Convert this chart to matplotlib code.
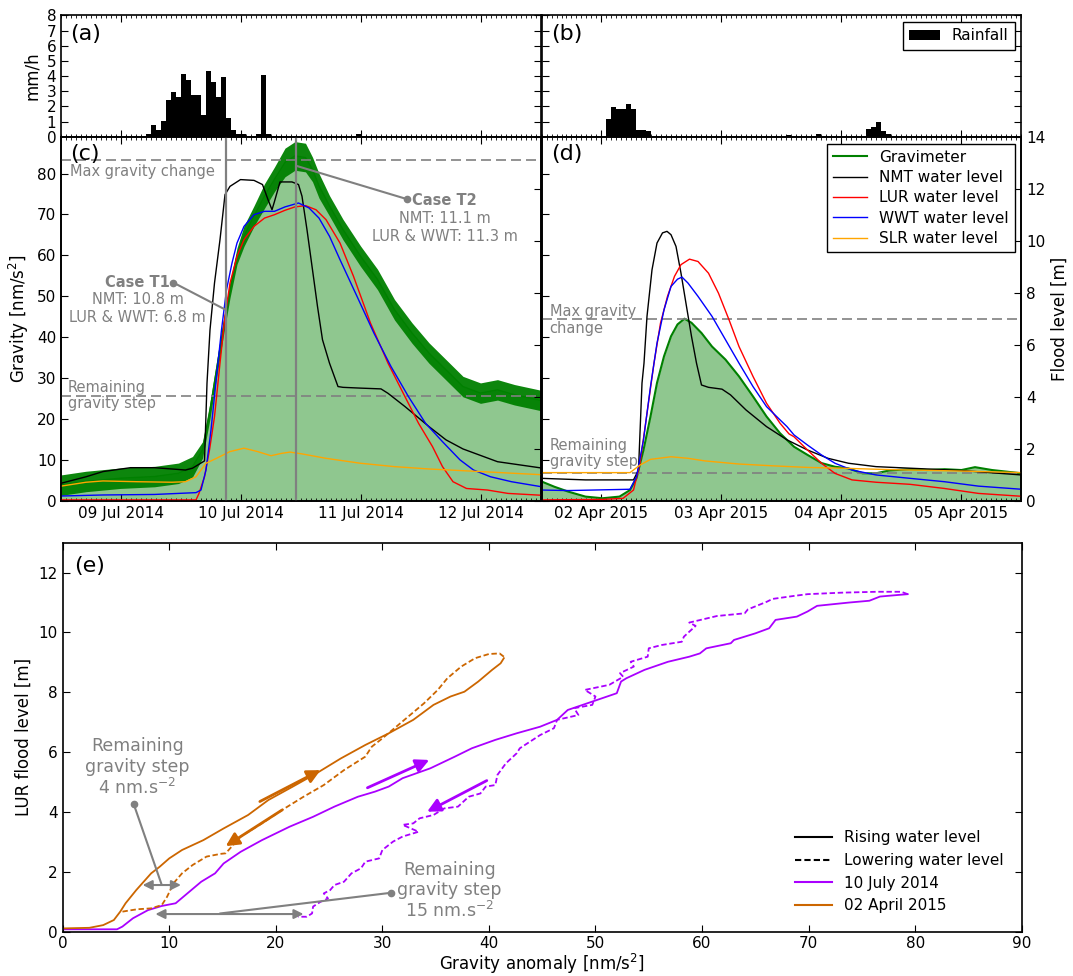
import matplotlib
matplotlib.use('Agg')
import matplotlib.pyplot as plt
import matplotlib.dates as mdates
from matplotlib.lines import Line2D
import numpy as np
from datetime import datetime

plt.rcParams.update({
    'font.family': 'DejaVu Sans',
    'xtick.direction': 'in', 'ytick.direction': 'in',
    'xtick.major.size': 5, 'ytick.major.size': 5,
    'xtick.minor.size': 2.5, 'ytick.minor.size': 2.5,
    'xtick.labelsize': 11, 'ytick.labelsize': 11,
    'axes.linewidth': 1.2,
    'legend.fancybox': False, 'legend.edgecolor': 'black', 'legend.framealpha': 1,
})

# ---- rainfall (hours after 09 Jul 2014 00:00 / 02 Apr 2015 00:00), mm/h
rain_a_h = [5, 6, 7, 8, 9, 10, 11, 12, 13, 14, 15, 16, 17, 18, 19, 20, 21, 22, 23, 24, 27, 28, 29, 47]
rain_a = [0.15, 0.77, 0.44, 1.04, 2.42, 2.95, 2.62, 4.14, 3.74, 2.75, 2.75, 1.43, 4.34, 3.61,
          2.62, 3.94, 1.23, 0.44, 0.18, 0.18, 0.18, 4.05, 0.15, 0.18]
rain_b_h = [1, 2, 3, 4, 5, 6, 7, 8, 9, 37, 43, 53, 54, 55, 56, 57]
rain_b = [1.17, 1.96, 1.81, 1.81, 2.14, 1.83, 0.44, 0.44, 0.37, 0.12, 0.15, 0.48, 0.66, 0.99, 0.37, 0.15]

# ---- July 2014 event (c): gravimeter [nm/s2], water levels [m]
grav_c_h = [-12, -7.0, -0.1, 6.7, 11.5, 14.3, 16.3, 17.7, 19.1, 20.4, 21.8, 23.2, 24.6, 26.6, 28.7,
            30.7, 32.8, 34.8, 36.9, 38.3, 39.6, 41.7, 44.4, 47.9, 51.3, 54.7, 58.2, 61.6, 65.0,
            68.4, 71.9, 75.3, 78.7, 84]
grav_c = [3.8, 4.7, 5.5, 5.9, 6.7, 8.3, 12.4, 21.4, 32.0, 41.8, 51.6, 59.8, 64.7, 69.6, 74.5, 78.6,
          82.7, 84.3, 83.9, 81.0, 77.0, 72.1, 66.3, 59.8, 54.1, 46.7, 41.0, 36.1, 32.0, 27.9, 26.3,
          27.1, 25.9, 24.5]
grav_c_noise = [2.5, 2.5, 2.5, 2.5, 2.5, 2.5, 2.0, 2.0, 2.0, 2.0, 2.0, 2.0, 2.5, 2.5, 3.0, 3.0,
                3.5, 3.5, 3.5, 3.0, 3.0, 2.5, 2.5, 2.5, 2.5, 2.5, 2.5, 2.5, 2.5, 2.5, 2.5, 2.5, 2.5, 2.5]

nmt_c_h = [-12, -7.0, -3.6, 1.9, 6.7, 12.9, 14.3, 16.7, 17.2, 17.8, 18.7, 19.8, 20.8, 21.8, 23.9,
           26.6, 28.3, 29.4, 30.2, 30.7, 31.8, 34.2, 35.5, 36.2, 37.2, 38.3, 39.3, 40.3, 41.7,
           43.4, 44.4, 47.9, 52.0, 53.4, 56.8, 61.6, 65.0, 68.4, 75.3, 84]
nmt_c = [0.67, 0.92, 1.12, 1.27, 1.27, 1.18, 1.25, 1.53, 4.52, 6.57, 8.37, 10.04, 11.77, 12.09,
         12.35, 12.32, 12.16, 11.58, 11.19, 11.51, 12.26, 12.26, 12.16, 11.71, 10.42, 8.88, 7.47,
         6.19, 5.29, 4.39, 4.36, 4.33, 4.30, 4.13, 3.62, 2.85, 2.34, 1.99, 1.50, 1.26]
lur_c_h = [-12, 15.0, 15.6, 16.7, 17.7, 18.7, 19.8, 20.8, 21.8, 23.2, 24.6, 26.6, 28.7, 30.7, 32.8,
           34.8, 36.9, 39.0, 41.0, 43.8, 46.5, 49.9, 53.4, 56.8, 59.5, 62.3, 64.3, 66.4, 69.1,
           73.3, 77.4, 84]
lur_c = [0.03, 0.03, 0.28, 0.92, 1.95, 3.23, 5.29, 7.09, 8.37, 9.40, 10.04, 10.55, 10.87, 11.0,
         11.17, 11.30, 11.35, 11.19, 10.81, 9.91, 8.63, 6.83, 5.29, 4.0, 2.98, 2.08, 1.31, 0.73,
         0.47, 0.41, 0.28, 0.21]
wwt_c_h = [-12, -3.6, 6.7, 15.0, 16.0, 17.0, 18.0, 19.1, 20.1, 21.1, 22.2, 23.2, 24.6, 26.6, 28.7,
           30.7, 32.8, 35.5, 37.6, 39.6, 41.7, 43.8, 47.2, 50.6, 54.0, 57.5, 60.9, 64.3, 67.8,
           70.5, 73.9, 78.1, 84]
wwt_c = [0.18, 0.22, 0.24, 0.31, 0.41, 1.18, 2.72, 4.78, 6.57, 8.11, 9.14, 9.91, 10.55, 11.0,
         11.13, 11.13, 11.30, 11.45, 11.26, 10.87, 10.17, 9.27, 7.86, 6.44, 5.16, 4.0, 2.98, 2.27,
         1.57, 1.18, 0.92, 0.73, 0.54]
slr_c_h = [-12, -7.0, -3.6, 3.3, 10.2, 12.9, 15.0, 17.0, 19.1, 21.8, 24.6, 27.3, 30.0, 32.1, 33.8,
           36.2, 41.0, 47.9, 54.7, 61.6, 71.9, 84]
slr_c = [0.56, 0.71, 0.76, 0.73, 0.71, 0.73, 0.92, 1.44, 1.63, 1.89, 2.02, 1.89, 1.73, 1.82, 1.87,
         1.80, 1.63, 1.44, 1.31, 1.22, 1.12, 1.00]

# ---- April 2015 event (d)
grav_d_h = [-12, -9.4, -6.6, -3.2, 0.2, 3.6, 5.7, 7.0, 8.4, 9.8, 11.1, 12.5, 13.9, 15.2, 16.6,
            18.0, 20.0, 22.1, 24.8, 27.5, 30.3, 33.0, 35.7, 38.5, 41.2, 44.0, 46.7, 49.4, 52.2,
            54.9, 57.6, 61.7, 65.1, 68.6, 72.0, 74.7, 78.1, 84]
grav_d = [4.7, 3.4, 2.2, 1.0, 0.6, 1.0, 2.6, 5.5, 12.4, 20.6, 28.8, 35.3, 40.2, 43.1, 44.5, 43.5,
          41.0, 37.7, 34.5, 30.4, 25.5, 20.6, 16.5, 13.2, 11.2, 9.2, 8.3, 7.9, 6.7, 6.7, 7.4, 7.7,
          7.5, 7.7, 7.5, 8.2, 7.5, 6.7]
nmt_d_h = [-12, -3.2, 6.4, 7.4, 8.1, 8.5, 9.1, 10.1, 11.1, 12.2, 13.1, 13.9, 14.9, 15.9, 17.0,
           18.0, 19.0, 20.0, 21.4, 24.1, 25.8, 28.9, 33.0, 37.1, 41.2, 45.3, 49.4, 54.9, 61.7,
           72.0, 84]
nmt_d = [0.86, 0.80, 0.80, 1.18, 4.52, 5.29, 7.09, 8.88, 9.91, 10.30, 10.36, 10.23, 9.78, 8.75,
         7.47, 6.32, 5.29, 4.45, 4.36, 4.29, 4.07, 3.49, 2.85, 2.34, 1.95, 1.63, 1.44, 1.31, 1.25,
         1.16, 0.99]
lur_d_h = [-12, 0.2, 4.3, 6.4, 7.7, 9.1, 10.5, 11.8, 13.2, 14.6, 15.9, 17.6, 19.3, 21.4, 23.4,
           25.5, 27.5, 30.3, 33.0, 35.7, 37.5, 38.5, 41.2, 44.0, 46.7, 50.1, 54.9, 61.7, 68.6,
           75.4, 84]
lur_d = [0.03, 0.05, 0.09, 0.41, 1.44, 3.36, 5.29, 6.83, 7.86, 8.63, 9.08, 9.29, 9.20, 8.75,
         7.98, 6.96, 5.93, 4.78, 3.75, 2.98, 2.57, 2.46, 1.95, 1.44, 1.05, 0.80, 0.71, 0.63, 0.47,
         0.28, 0.17]
wwt_d_h = [-12, -6.6, 5.7, 7.0, 8.4, 9.8, 11.1, 12.5, 13.9, 15.2, 16.1, 17.3, 19.3, 22.1, 24.8,
           27.5, 30.3, 33.0, 35.7, 37.1, 38.5, 41.2, 44.0, 46.7, 50.1, 54.9, 61.7, 68.6, 75.4, 84]
wwt_d = [0.41, 0.39, 0.44, 0.92, 2.34, 4.39, 6.06, 7.34, 8.24, 8.52, 8.60, 8.37, 7.86, 7.09,
         6.19, 5.29, 4.39, 3.62, 3.11, 2.85, 2.53, 2.14, 1.76, 1.44, 1.18, 0.99, 0.86, 0.73, 0.56,
         0.44]
slr_d_h = [-12, 5.7, 7.7, 9.8, 13.9, 17.3, 20.7, 27.5, 34.4, 41.2, 48.1, 54.9, 61.7, 72.0, 84]
slr_d = [1.08, 1.08, 1.37, 1.59, 1.69, 1.63, 1.53, 1.41, 1.34, 1.28, 1.25, 1.21, 1.18, 1.14, 1.08]

# reference levels and case times
max_grav_c, step_grav_c = 83.4, 25.5
max_grav_d, step_grav_d = 44.4, 6.7
case_t1_h, case_t2_h = 21, 35

# ---- hysteresis (e): gravity anomaly [nm/s2] vs LUR flood level [m]
jul_up_x = [0, 5.1, 5.6, 6.6, 8.0, 9.3, 10.6, 11.7, 13.0, 14.3, 15.1, 16.7, 18.7, 21.3, 23.5, 25.5,
            27.7, 29.3, 30.6, 31.9, 34.5, 36.8, 38.4, 40.6, 42.6, 44.8, 46.4, 47.4, 49.7, 52.0,
            52.4, 52.9, 54.6, 56.8, 58.8, 59.8, 60.4, 62.7, 63.0, 65.0, 66.3, 66.9, 68.9, 69.9,
            70.8, 73.8, 75.7, 76.7, 78.3, 79.3]
jul_up_y = [0.08, 0.08, 0.17, 0.45, 0.72, 0.86, 0.95, 1.28, 1.67, 1.95, 2.28, 2.67, 3.06, 3.51,
            3.84, 4.18, 4.51, 4.68, 4.85, 5.13, 5.46, 5.85, 6.13, 6.41, 6.63, 6.85, 7.08, 7.41,
            7.69, 7.97, 8.36, 8.47, 8.75, 9.02, 9.19, 9.30, 9.47, 9.64, 9.75, 9.97, 10.14, 10.42,
            10.53, 10.70, 10.89, 11.0, 11.06, 11.2, 11.25, 11.28]
jul_dn_x = [79.3, 78.7, 76.4, 73.1, 69.9, 68.6, 66.6, 66.1, 64.3, 64.0, 61.4, 60.1, 58.8, 59.4,
            58.3, 58.1, 56.2, 55.0, 54.9, 53.3, 53.6, 52.3, 52.6, 51.3, 49.0, 50.0, 49.7, 48.0,
            48.4, 46.4, 46.1, 44.8, 42.9, 42.6, 41.6, 40.8, 40.6, 39.7, 39.2, 38.1, 37.1, 35.8,
            34.8, 33.5, 32.9, 31.9, 33.4, 31.9, 31.0, 30.0, 29.7, 28.4, 28.0, 27.1, 26.4, 25.5,
            25.1, 24.5, 24.9, 24.2, 23.5, 23.4, 22.9, 22.1]
jul_dn_y = [11.28, 11.36, 11.36, 11.33, 11.28, 11.22, 11.12, 11.03, 10.77, 10.64, 10.55, 10.44,
            10.33, 10.22, 9.86, 9.69, 9.58, 9.47, 9.19, 9.02, 8.86, 8.64, 8.52, 8.25, 8.08, 7.86,
            7.58, 7.47, 7.24, 7.08, 6.80, 6.57, 6.13, 5.96, 5.63, 5.24, 4.90, 4.85, 4.62, 4.51,
            4.18, 4.12, 3.90, 3.79, 3.62, 3.57, 3.34, 3.18, 3.01, 2.73, 2.45, 2.34, 2.12, 1.95,
            1.67, 1.56, 1.39, 1.28, 1.11, 1.00, 0.84, 0.61, 0.50, 0.50]
apr_up_x = [0, 2.5, 3.8, 4.8, 5.4, 5.9, 6.9, 8.3, 9.1, 10.0, 11.2, 13.2, 15.1, 17.4, 19.3, 21.6,
            23.8, 26.1, 28.4, 30.6, 32.9, 34.8, 36.4, 37.7, 39.0, 40.3, 41.1, 41.4]
apr_up_y = [0.11, 0.13, 0.22, 0.39, 0.67, 0.95, 1.39, 1.95, 2.17, 2.45, 2.73, 3.06, 3.45, 3.90,
            4.40, 4.85, 5.29, 5.79, 6.24, 6.63, 7.08, 7.58, 7.86, 8.02, 8.36, 8.75, 8.97, 9.14]
apr_dn_x = [41.4, 41.0, 40.0, 38.7, 37.4, 36.1, 35.2, 33.9, 32.6, 31.3, 30.0, 29.0, 28.4, 26.4,
            24.5, 22.6, 20.6, 18.7, 16.7, 15.3, 14.8, 13.5, 12.2, 11.2, 10.4, 9.8, 9.3, 8.3, 7.0,
            6.1, 5.6]
apr_dn_y = [9.19, 9.30, 9.28, 9.14, 8.86, 8.47, 8.08, 7.63, 7.24, 6.85, 6.46, 6.18, 5.85, 5.40,
            4.90, 4.51, 4.07, 3.62, 3.18, 2.62, 2.60, 2.51, 2.23, 1.95, 1.62, 1.17, 0.89, 0.78,
            0.75, 0.70, 0.67]

PURPLE, BROWN = '#aa00ff', '#cc6600'

day14 = mdates.date2num(datetime(2014, 7, 9))
day15 = mdates.date2num(datetime(2015, 4, 2))


def t14(h):
    return day14 + np.asarray(h, float) / 24


def t15(h):
    return day15 + np.asarray(h, float) / 24


def date_axis(ax, t, labels):
    ax.set_xlim(t(-12), t(84))
    ax.xaxis.set_major_locator(mdates.DayLocator())
    ax.xaxis.set_minor_locator(mdates.HourLocator())
    ax.xaxis.set_major_formatter(mdates.DateFormatter('%d %b %Y'))
    ax.tick_params(axis='x', which='both', top=True, labelbottom=labels)


fig = plt.figure(figsize=(10.73, 9.76), dpi=100)
L1, L2, W = 0.05685, 0.50466, 0.44734
ax_a = fig.add_axes([L1, 0.85994, W, 0.12418])
ax_b = fig.add_axes([L2, 0.85994, W, 0.12418])
ax_c = fig.add_axes([L1, 0.48699, W, 0.37295])
ax_d = fig.add_axes([L2, 0.48699, W, 0.37295])
ax_e = fig.add_axes([0.05843, 0.04539, 0.89376, 0.39857])

# ---- rainfall panels
ax_a.bar(t14(rain_a_h), rain_a, width=1 / 24, align='edge', color='k', linewidth=0)
ax_b.bar(t15(rain_b_h), rain_b, width=1 / 24, align='edge', color='k', linewidth=0, label='Rainfall')
for ax, t in ((ax_a, t14), (ax_b, t15)):
    date_axis(ax, t, False)
    ax.set_ylim(0, 8)
    ax.set_yticks(range(9))
    ax.tick_params(axis='y', right=True)
ax_a.set_ylabel('mm/h', fontsize=12)
ax_b.tick_params(axis='y', labelleft=False)
ax_b.legend(loc='upper right', fontsize=11, handlelength=2.0, borderaxespad=0.45)
ax_a.text(0.02, 0.93, '(a)', transform=ax_a.transAxes, fontsize=16, va='top')
ax_b.text(0.02, 0.93, '(b)', transform=ax_b.transAxes, fontsize=16, va='top')

# ---- time series panels
gray_dash = dict(color='gray', ls='--', dashes=(6, 3), lw=1.2, zorder=4)
lev_style = [('NMT water level', 'black'), ('LUR water level', 'red'),
             ('WWT water level', 'blue'), ('SLR water level', 'orange')]

# (c)
tc = t14(grav_c_h)
gc = np.array(grav_c)
nc = np.array(grav_c_noise)
ax_c.fill_between(tc, 0, gc, color='green', alpha=0.44, lw=0)
ax_c.fill_between(tc, gc - nc, gc + nc, color='green', alpha=0.95, lw=0)
ax_c.plot(tc, gc, color='green', lw=1)
ax_c.axhline(max_grav_c, **gray_dash)
ax_c.axhline(step_grav_c, **gray_dash)
ax_c.set_ylim(0, 89)
ax_c.set_yticks(range(0, 81, 10))
ax_c.tick_params(axis='y', right=False)
ax_c.set_ylabel('Gravity [nm/s$^2$]', fontsize=12)
date_axis(ax_c, t14, True)

ax_c2 = ax_c.twinx()
for (lab, col), hh, vv in zip(lev_style, (nmt_c_h, lur_c_h, wwt_c_h, slr_c_h),
                              (nmt_c, lur_c, wwt_c, slr_c)):
    ax_c2.plot(t14(hh), vv, color=col, lw=1)
ax_c2.axvline(t14(case_t1_h), color='gray', lw=1.6)
ax_c2.axvline(t14(case_t2_h), color='gray', lw=1.6)
ax_c2.set_ylim(0, 14)
ax_c2.set_yticks(range(0, 15, 2))
ax_c2.tick_params(axis='y', labelright=False)
date_axis(ax_c2, t14, True)

tr = ax_c.transData
txt = dict(color='gray', fontsize=10.5, transform=tr)
ax_c2.text(t14(-10.2), 80.6, 'Max gravity change', va='center', **txt)
ax_c2.text(t14(-10.6), 25.8, 'Remaining\ngravity step', va='center', linespacing=1.1, **txt)
ax_c2.text(t14(3.3), 53.4, 'Case T1', ha='center', va='center', fontweight='bold', **txt)
ax_c2.text(t14(3.3), 47.0, 'NMT: 10.8 m\nLUR & WWT: 6.8 m', ha='center', va='center', **txt)
ax_c2.text(t14(64.7), 73.3, 'Case T2', ha='center', va='center', fontweight='bold', **txt)
ax_c2.text(t14(64.7), 66.8, 'NMT: 11.1 m\nLUR & WWT: 11.3 m', ha='center', va='center', **txt)
for (h0, g0), (h1, g1) in (((10.5, 53.3), (20.9, 46.7)), ((57.3, 73.7), (35.0, 81.9))):
    ax_c2.annotate('', xy=(t14(h1), g1), xytext=(t14(h0), g0), xycoords=tr, textcoords=tr,
                   arrowprops=dict(arrowstyle='-', color='gray', lw=1.5, shrinkA=0, shrinkB=0))
    ax_c2.plot([t14(h0)], [g0], 'o', color='gray', ms=4.5, transform=tr)
ax_c2.text(0.02, 0.98, '(c)', transform=ax_c2.transAxes, fontsize=16, va='top')

# (d)
td = t15(grav_d_h)
ax_d.fill_between(td, 0, grav_d, color='green', alpha=0.44, lw=0)
g_line, = ax_d.plot(td, grav_d, color='green', lw=1.5, label='Gravimeter')
ax_d.axhline(max_grav_d, **gray_dash)
ax_d.axhline(step_grav_d, **gray_dash)
ax_d.set_ylim(0, 89)
ax_d.set_yticks(range(0, 81, 10))
ax_d.tick_params(axis='y', labelleft=False, right=False)
date_axis(ax_d, t15, True)

ax_d2 = ax_d.twinx()
handles = [g_line]
for (lab, col), hh, vv in zip(lev_style, (nmt_d_h, lur_d_h, wwt_d_h, slr_d_h),
                              (nmt_d, lur_d, wwt_d, slr_d)):
    ln, = ax_d2.plot(t15(hh), vv, color=col, lw=1, label=lab)
    handles.append(ln)
ax_d2.set_ylim(0, 14)
ax_d2.set_yticks(range(0, 15, 2))
ax_d2.set_ylabel('Flood level [m]', fontsize=12)
date_axis(ax_d2, t15, True)
trd = ax_d.transData
txd = dict(color='gray', fontsize=10.5, transform=trd, linespacing=1.1)
ax_d2.text(t15(-10.4), 44.2, 'Max gravity\nchange', va='center', **txd)
ax_d2.text(t15(-10.4), 11.5, 'Remaining\ngravity step', va='center', **txd)
ax_d2.legend(handles=handles, loc='upper right', fontsize=11, labelspacing=0.35,
             handlelength=2.2, borderaxespad=0.45)
ax_d2.text(0.02, 0.98, '(d)', transform=ax_d2.transAxes, fontsize=16, va='top')

# ---- (e) hysteresis
ax_e.plot(jul_up_x, jul_up_y, color=PURPLE, lw=1.3)
ax_e.plot(jul_dn_x, jul_dn_y, color=PURPLE, lw=1.3, ls='--', dashes=(3, 1.5))
ax_e.plot(apr_up_x, apr_up_y, color=BROWN, lw=1.3)
ax_e.plot(apr_dn_x, apr_dn_y, color=BROWN, lw=1.3, ls='--', dashes=(3, 1.5))

for (x0, y0), (x1, y1), col in (((18.5, 4.35), (24.2, 5.4), BROWN),
                                ((20.6, 4.07), (15.3, 2.86), BROWN),
                                ((28.6, 4.81), (34.4, 5.74), PURPLE),
                                ((39.8, 5.05), (34.2, 4.01), PURPLE)):
    ax_e.annotate('', xy=(x1, y1), xytext=(x0, y0),
                  arrowprops=dict(arrowstyle='-|>', color=col, lw=2, mutation_scale=20,
                                  shrinkA=0, shrinkB=0))

for (x0, y0), (x1, y1), (a0, a1, ay) in (((6.66, 4.27), (9.24, 1.62), (7.5, 11.1, 1.56)),
                                         ((30.8, 1.30), (14.8, 0.61), (8.7, 22.6, 0.59))):
    ax_e.plot([x0, x1], [y0, y1], color='gray', lw=1.5)
    ax_e.plot([x0], [y0], 'o', color='gray', ms=4.5)
    ax_e.annotate('', xy=(a1, ay), xytext=(a0, ay),
                  arrowprops=dict(arrowstyle='<|-|>', color='gray', lw=1.5, mutation_scale=14,
                                  shrinkA=0, shrinkB=0))
ax_e.text(7.0, 5.48, 'Remaining\ngravity step\n4 nm.s$^{-2}$', ha='center', va='center',
          color='gray', fontsize=12.5, linespacing=1.15)
ax_e.text(36.3, 1.36, 'Remaining\ngravity step\n15 nm.s$^{-2}$', ha='center', va='center',
          color='gray', fontsize=12.5, linespacing=1.15)

ax_e.set_xlim(0, 90)
ax_e.set_ylim(0, 13)
ax_e.set_xticks(range(0, 91, 10))
ax_e.set_yticks(range(0, 13, 2))
ax_e.tick_params(top=True, right=True)
ax_e.tick_params(axis='x', pad=3)
ax_e.set_xlabel('Gravity anomaly [nm/s$^2$]', fontsize=12, labelpad=1)
ax_e.set_ylabel('LUR flood level [m]', fontsize=12)
leg_handles = [Line2D([], [], color='black', lw=1.5),
               Line2D([], [], color='black', lw=1.5, ls='--', dashes=(3, 1.5)),
               Line2D([], [], color=PURPLE, lw=1.5),
               Line2D([], [], color=BROWN, lw=1.5)]
ax_e.legend(leg_handles, ['Rising water level', 'Lowering water level', '10 July 2014',
                          '02 April 2015'],
            loc='lower right', frameon=False, fontsize=11, handlelength=2.4, borderaxespad=0.8)
ax_e.text(0.012, 0.965, '(e)', transform=ax_e.transAxes, fontsize=16, va='top')

fig.savefig('out.png', dpi=100)
